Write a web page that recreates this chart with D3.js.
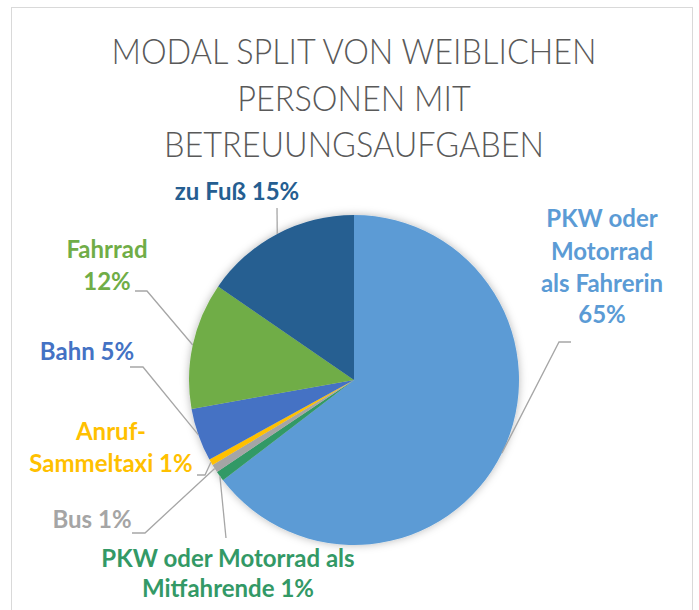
<!DOCTYPE html>
<html>
<head>
<meta charset="utf-8">
<script src="https://cdn.jsdelivr.net/npm/d3@7"></script>
<style>
  html, body { margin: 0; padding: 0; background: #fff; }
  svg { display: block; }
</style>
</head>
<body>
<div id="chart"></div>
<script>
// data (clockwise from 12 o'clock)
var categories = [
  "PKW oder Motorrad als Fahrerin",
  "PKW oder Motorrad als Mitfahrende",
  "Bus",
  "Anruf-Sammeltaxi",
  "Bahn",
  "Fahrrad",
  "zu Fuß"
];
var values = [64.6, 1.0, 0.8, 0.6, 5.2, 12.4, 15.4];
var colors = ["#5B9BD5", "#339966", "#A5A5A5", "#FFC000", "#4472C4", "#70AD47", "#255E91"];
var titleLines = ["MODAL SPLIT VON WEIBLICHEN", "PERSONEN MIT", "BETREUUNGSAUFGABEN"];

// label layout: line breaks, anchor x, baselines, leader start/elbow
var labelLayout = [
  {lines: ["PKW oder", "Motorrad", "als Fahrerin", "{p}"], x: 602, y: [227, 260, 292, 323], lead: [[571, 342], [559, 342]]},
  {lines: ["PKW oder Motorrad als", "Mitfahrende {p}"], x: 228, y: [567, 597], lead: [[226, 538], [226, 538]]},
  {lines: ["Bus {p}"], x: 92, y: [528], lead: [[132, 533], [145, 533]]},
  {lines: ["Anruf-", "Sammeltaxi {p}"], x: 111, y: [440, 472], lead: [[197, 475], [205, 475]]},
  {lines: ["Bahn {p}"], x: 87, y: [360], lead: [[130, 367], [143, 367]]},
  {lines: ["Fahrrad", "{p}"], x: 107, y: [258, 290], lead: [[135, 291], [147, 291]]},
  {lines: ["zu Fuß {p}"], x: 237, y: [200], lead: [[277, 208], [277, 208]]}
];

var w = 699, h = 610;
var cx = 354, cy = 380, r = 165;

var svg = d3.select("#chart").append("svg")
  .attr("width", w)
  .attr("height", h);

// chart frame
svg.append("rect")
  .attr("x", 11.5).attr("y", 7.5)
  .attr("width", 681).attr("height", 640)
  .attr("fill", "#fff")
  .attr("stroke", "#D9D9D9");

// soft shadow around the pie
var defs = svg.append("defs");
var f = defs.append("filter").attr("id", "shadow")
  .attr("x", "-20%").attr("y", "-20%").attr("width", "140%").attr("height", "140%");
f.append("feDropShadow")
  .attr("dx", 0).attr("dy", 0).attr("stdDeviation", 4)
  .attr("flood-color", "#000").attr("flood-opacity", 0.28);

// title (squeezed a bit, Calibri is narrower than Lato)
svg.append("g").selectAll("text")
  .data(titleLines)
  .enter().append("text")
  .attr("x", 354)
  .attr("y", function(d, i) { return 64 + i * 46.5; })
  .attr("text-anchor", "middle")
  .attr("font-family", "Lato, 'Open Sans', sans-serif")
  .attr("font-weight", 300)
  .attr("font-size", 36)
  .attr("fill", "#595959")
  .text(function(d) { return d; })
  .each(function() {
    var len = this.getComputedTextLength();
    d3.select(this).attr("textLength", len * 0.9).attr("lengthAdjust", "spacingAndGlyphs");
  });

var total = d3.sum(values);
var rows = categories.map(function(c, i) { return {name: c, value: values[i], color: colors[i], layout: labelLayout[i]}; });

var pie = d3.pie()
  .sort(null)
  .value(function(d) { return d.value; });
var arc = d3.arc().innerRadius(0).outerRadius(r);

var g = svg.append("g").attr("transform", "translate(" + cx + "," + cy + ")");
var arcs = pie(rows);

g.append("g").attr("filter", "url(#shadow)")
  .selectAll("path")
  .data(arcs)
  .enter().append("path")
  .attr("d", arc)
  .attr("fill", function(d) { return d.data.color; });

// leader lines: from the label elbow to the slice edge at its middle angle
function edgePoint(d) {
  var a = (d.startAngle + d.endAngle) / 2;
  return [cx + r * Math.sin(a), cy - r * Math.cos(a)];
}
svg.append("g").selectAll("polyline")
  .data(arcs)
  .enter().append("polyline")
  .attr("points", function(d) {
    var pts = d.data.layout.lead.concat([edgePoint(d)]);
    return pts.map(function(p) { return p.join(","); }).join(" ");
  })
  .attr("fill", "none")
  .attr("stroke", "#A6A6A6")
  .attr("stroke-width", 1.3);

// labels
var lab = svg.append("g").selectAll("text")
  .data(arcs)
  .enter().append("text")
  .attr("text-anchor", "middle")
  .attr("font-family", "Lato, 'Open Sans', sans-serif")
  .attr("font-weight", "bold")
  .attr("font-size", 24)
  .attr("fill", function(d) { return d.data.color; });

lab.each(function(d) {
  var pct = Math.round(d.data.value / total * 100) + "%";
  var L = d.data.layout;
  d3.select(this).selectAll("tspan")
    .data(L.lines)
    .enter().append("tspan")
    .attr("x", L.x)
    .attr("y", function(s, i) { return L.y[i]; })
    .text(function(s) { return s.replace("{p}", pct); });
});
</script>
</body>
</html>
